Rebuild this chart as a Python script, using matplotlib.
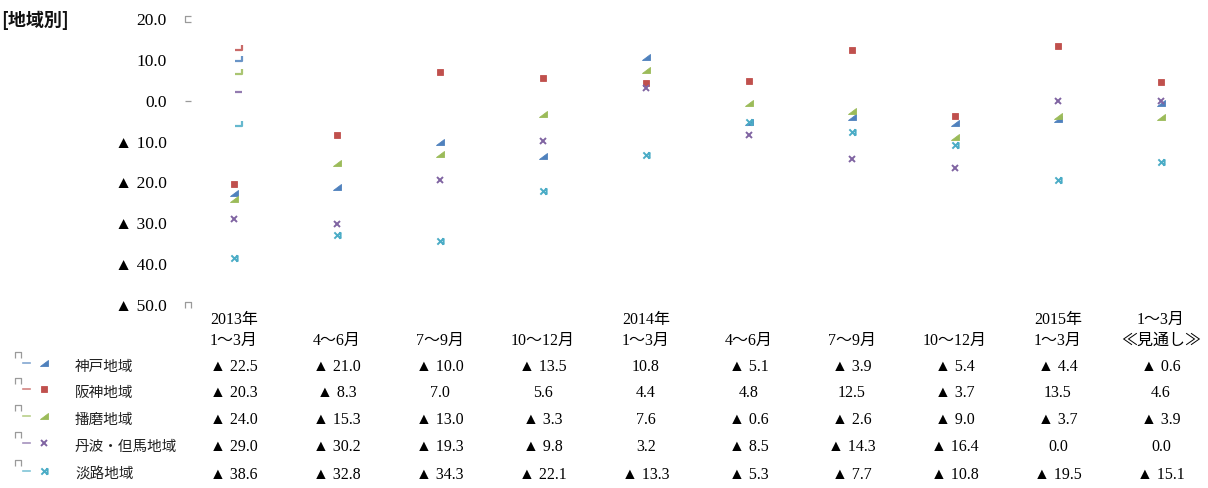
import matplotlib
matplotlib.use("Agg")
import matplotlib.pyplot as plt
from matplotlib.path import Path
from matplotlib.transforms import blended_transform_factory

plt.rcParams["font.family"] = ["Liberation Serif", "Noto Sans CJK JP"]

# ---- data -------------------------------------------------------------
year_labels = ["2013年", "", "", "", "2014年", "", "", "", "2015年", "1～3月"]
quarter_labels = ["1～3月", "4～6月", "7～9月", "10～12月", "1～3月",
                  "4～6月", "7～9月", "10～12月", "1～3月", "≪見通し≫"]
regions = ["神戸地域", "阪神地域", "播磨地域", "丹波・但馬地域", "淡路地域"]
kobe = [-22.5, -21.0, -10.0, -13.5, 10.8, -5.1, -3.9, -5.4, -4.4, -0.6]
hanshin = [-20.3, -8.3, 7.0, 5.6, 4.4, 4.8, 12.5, -3.7, 13.5, 4.6]
harima = [-24.0, -15.3, -13.0, -3.3, 7.6, -0.6, -2.6, -9.0, -3.7, -3.9]
tanba_tajima = [-29.0, -30.2, -19.3, -9.8, 3.2, -8.5, -14.3, -16.4, 0.0, 0.0]
awaji = [-38.6, -32.8, -34.3, -22.1, -13.3, -5.3, -7.7, -10.8, -19.5, -15.1]
stub_values = [9.8, 12.5, 6.6, 2.2, -6.1]
y_ticks = [20, 10, 0, -10, -20, -30, -40, -50]

series = [kobe, hanshin, harima, tanba_tajima, awaji]
colors = ["#4F81BD", "#C0504D", "#9BBB59", "#8064A2", "#4BACC6"]


def fmt(v):
    return f"▲ {abs(v):.1f}" if v < 0 else f"{v:.1f}"


# ---- marker shapes ----------------------------------------------------
ramp = Path([(-1, -0.7), (1, -0.7), (1, 0.8), (-1, -0.7)],
            [Path.MOVETO, Path.LINETO, Path.LINETO, Path.CLOSEPOLY])
star_x = Path([(-1, -1), (1, 1), (-1, 1), (1, -1), (1, -1), (1, 1)],
              [Path.MOVETO, Path.LINETO, Path.MOVETO, Path.LINETO,
               Path.MOVETO, Path.LINETO])
stub = Path([(0.15, 0), (1, 0), (1, 0.65)],
            [Path.MOVETO, Path.LINETO, Path.LINETO])
stub_flat = Path([(0.15, 0), (1, 0), (1, 0.0)],
                 [Path.MOVETO, Path.LINETO, Path.LINETO])
cap_open_right = Path([(1, 1), (-1, 1), (-1, -1), (1, -1)],
                      [Path.MOVETO, Path.LINETO, Path.LINETO, Path.LINETO])
cap_open_down = Path([(-1, -1), (-1, 1), (1, 1), (1, -1)],
                     [Path.MOVETO, Path.LINETO, Path.LINETO, Path.LINETO])

marker_styles = [
    dict(marker=ramp, ms=6, mfc=colors[0], mec=colors[0], mew=0.6),
    dict(marker="s", ms=5, mfc=colors[1], mec=colors[1], mew=0.6),
    dict(marker=ramp, ms=6, mfc=colors[2], mec=colors[2], mew=0.6),
    dict(marker="x", ms=4.5, mec=colors[3], mew=1.4),
    dict(marker=star_x, ms=4.5, mfc="none", mec=colors[4], mew=1.4),
]

# ---- figure -----------------------------------------------------------
W, H = 1208, 488
fig = plt.figure(figsize=(W / 100, H / 100), dpi=100)

left_px, right_px, top_px, bot_px = 182, 1205, 19, 305
ax = fig.add_axes([left_px / W, 1 - bot_px / H,
                   (right_px - left_px) / W, (bot_px - top_px) / H])
x0_px, step_px = 234, 103
ax.set_xlim((left_px - x0_px) / step_px, (right_px - x0_px) / step_px)
ax.set_ylim(-50, 20)
for s in ax.spines.values():
    s.set_visible(False)
ax.set_xticks([])
ax.set_yticks(y_ticks)
ax.set_yticklabels([fmt(v) for v in y_ticks])
ax.tick_params(axis="y", length=0, pad=11, labelsize=12.5)
ax.patch.set_alpha(0)

xs = list(range(len(quarter_labels)))
for vals, style in zip(series, marker_styles):
    ax.plot(xs, vals, linestyle="none", **style)

# short bracket marks beside the first period
for v, c in zip(stub_values, colors):
    shape = stub_flat if c == colors[3] else stub
    ax.plot([0], [v], linestyle="none", marker=shape, ms=11, mfc="none",
            mec=c, mew=1.6, alpha=0.85)

# overlay in pixel coordinates for the title, table and keys
ov = fig.add_axes([0, 0, 1, 1], zorder=-1)
ov.set_xlim(0, W)
ov.set_ylim(H, 0)
ov.axis("off")

# small gray marks along the value axis
axis_tr = blended_transform_factory(ov.transData, ax.transData)
ax.plot([188], [20], transform=axis_tr, marker=cap_open_right, ms=4,
        mfc="none", mec="#9a9a9a", mew=0.9, linestyle="none", clip_on=False)
ax.plot([188], [0], transform=axis_tr, marker="_", ms=5,
        mec="#9a9a9a", mew=0.9, linestyle="none", clip_on=False)
ax.plot([188], [-50], transform=axis_tr, marker=cap_open_down, ms=4,
        mfc="none", mec="#9a9a9a", mew=0.9, linestyle="none", clip_on=False)

ov.text(1, 20, "[地域別]", fontsize=13, fontweight="bold",
        family=["Noto Sans CJK JP"], ha="left", va="center", color="#111")

tr = blended_transform_factory(ax.transData, ov.transData)
head_y1, head_y2 = 320, 341
for i, (top, bottom) in enumerate(zip(year_labels, quarter_labels)):
    if top:
        ov.text(i, head_y1, top, transform=tr, ha="center", va="center",
                fontsize=11.5)
    ov.text(i, head_y2, bottom, transform=tr, ha="center", va="center",
            fontsize=11.5)

row_y = [367, 393, 420, 447, 475]
for r, (name, vals, style, c) in enumerate(zip(regions, series,
                                               marker_styles, colors)):
    y = row_y[r]
    # key: gray cap, colored dash, marker
    ov.plot([17.5], [y - 12], marker=cap_open_down, ms=4, mfc="none",
            mec="#9a9a9a", mew=0.9, linestyle="none")
    ov.plot([23, 30], [y - 4, y - 4], color=c, lw=1.2, alpha=0.7)
    ov.plot([44], [y - 4], linestyle="none", **style)
    ov.text(75, y, name, family=["Noto Sans CJK JP"], fontsize=10.5,
            ha="left", va="center", color="#222")
    for i, v in enumerate(vals):
        ov.text(i, y, fmt(v), transform=tr, ha="center", va="center",
                fontsize=11.5)

fig.savefig("out.png", dpi=100)
